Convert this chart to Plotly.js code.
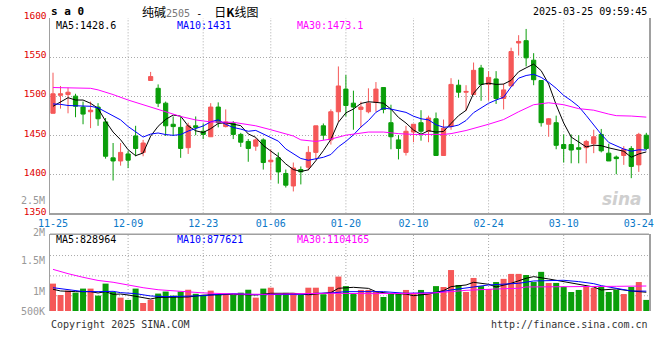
<!DOCTYPE html>
<html><head><meta charset="utf-8">
<script src="https://cdn.plot.ly/plotly-3.0.1.min.js"></script>
<style>html,body{margin:0;padding:0;background:#fff}#chart{width:660px;height:360px}</style>
</head><body><div id="chart"></div>
<script>
const dates = ['11-25','11-26','11-27','11-28','11-29',
'12-02','12-03','12-04','12-05','12-06','12-09','12-10','12-11','12-12','12-13','12-16','12-17','12-18','12-19','12-20','12-23','12-24','12-25','12-26','12-27','12-30','12-31',
'01-02','01-03','01-06','01-07','01-08','01-09','01-10','01-13','01-14','01-15','01-16','01-17','01-20','01-21','01-22','01-23','01-24','01-27',
'02-05','02-06','02-07','02-10','02-11','02-12','02-13','02-14','02-17','02-18','02-19','02-20','02-21','02-24','02-25','02-26','02-27','02-28',
'03-03','03-04','03-05','03-06','03-07','03-10','03-11','03-12','03-13','03-14','03-17','03-18','03-19','03-20','03-21','03-24','03-25'];

const openP  = [1478,1501,1502,1500,1486,1480,1486,1467,1421,1417, 1426,1449,1428,1520,1510,1491,1464,1460,1434,1462, 1455,1448,1486,1461,1465,1451,1442,1436,1444,1416, 1421,1401,1385,1406,1409,1428,1462,1444,1480,1509, 1491,1483,1480,1492,1511,1466,1444,1428,1454,1466, 1455,1471,1424,1461,1514,1505,1502,1536,1515,1522, 1497,1513,1568,1571,1546,1520,1464,1466,1438,1438, 1434,1434,1439,1451,1427,1422,1424,1433,1412,1450];
const highP  = [1530,1513,1511,1503,1493,1493,1491,1472,1440,1440, 1430,1462,1444,1531,1515,1493,1474,1474,1466,1474, 1465,1491,1492,1483,1468,1453,1445,1446,1446,1432, 1428,1406,1415,1410,1436,1462,1465,1483,1538,1527, 1507,1493,1510,1518,1511,1489,1450,1462,1464,1482, 1475,1479,1470,1523,1521,1514,1543,1540,1532,1532, 1516,1562,1578,1586,1555,1520,1472,1475,1451,1451, 1450,1444,1457,1458,1439,1424,1436,1436,1453,1453];
const lowP   = [1478,1484,1478,1473,1464,1459,1462,1420,1392,1411, 1408,1423,1423,1520,1486,1449,1449,1421,1426,1450, 1445,1448,1460,1460,1445,1435,1416,1430,1406,1393, 1388,1383,1378,1387,1405,1418,1444,1438,1467,1474, 1457,1460,1478,1480,1478,1432,1419,1424,1441,1443, 1441,1424,1424,1457,1498,1481,1502,1494,1494,1490, 1483,1513,1552,1538,1514,1461,1448,1432,1415,1414, 1414,1414,1427,1428,1417,1400,1412,1395,1403,1431];
const closeP = [1503,1503,1505,1487,1477,1482,1471,1423,1417,1428, 1418,1433,1440,1525,1491,1462,1461,1433,1462,1460, 1451,1486,1466,1467,1451,1441,1433,1444,1415,1418, 1403,1386,1408,1403,1428,1462,1450,1480,1513,1488, 1486,1486,1491,1509,1483,1448,1433,1455,1464,1455, 1472,1424,1459,1515,1505,1506,1533,1515,1524,1497, 1508,1557,1570,1549,1521,1466,1471,1437,1433,1431, 1432,1442,1448,1430,1417,1420,1432,1410,1451,1433];
const volume = [1210000,708000,900000,810000,990000,990000,680000,1210000,840000,590000,
 490000,990000,354000,500000,770000,860000,680000,860000,940000,760000,
 710000,900000,740000,710000,710000,810000,940000,590000,990000,1030000,
 740000,800000,800000,710000,1030000,1030000,740000,1070000,1520000,1100000,
 750000,930000,930000,840000,620000,750000,750000,930000,750000,930000,
 750000,1100000,1060000,1810000,1150000,840000,1460000,1100000,970000,1280000,
 1420000,1640000,1640000,1590000,1280000,1730000,1240000,1240000,1060000,840000,
 930000,1100000,1020000,1060000,840000,930000,750000,1060000,1280000,490000];

const ma5Price = [1487,1492,1498,1495,1495,1490.8,1484.4,1468,1454,1444.2, 1431.4,1423.8,1427.2,1448.8,1461.4,1470.2,1475.8,1474.4,1461.8,1455.6, 1453.4,1458.4,1465,1466,1464.2,1462.2,1451.6,1447.2,1436.8,1430.2, 1422.6,1413.2,1406,1403.6,1405.6,1417.4,1430.2,1444.6,1466.6,1478.6, 1483.4,1490.6,1492.8,1492,1491,1483.4,1472.8,1465.6,1456.6,1451, 1455.8,1454,1454.8,1465,1475,1481.8,1503.6,1514.8,1516.6,1515, 1515.4,1520.2,1531.2,1536.2,1541,1532.6,1515.4,1488.8,1465.6,1447.6, 1440.8,1435,1437.2,1436.6,1433.8,1431.4,1429.4,1421.8,1426,1428.6];
const ma10Price = [1490,1489.5,1488,1487.5,1487,1487,1485,1480,1474,1469.6, 1461.1,1454.1,1447.6,1451.4,1452.8,1450.8,1449.8,1450.8,1455.3,1458.5, 1461.8,1467.1,1469.7,1463.9,1459.9,1457.8,1455,1456.1,1451.4,1447.2, 1442.4,1432.4,1426.6,1420.2,1417.9,1420,1421.7,1425.3,1435.1,1442.1, 1450.4,1460.4,1468.7,1479.3,1484.8,1483.4,1481.7,1479.2,1474.3,1471, 1469.6,1463.4,1460.2,1460.8,1463,1468.8,1478.8,1484.8,1490.8,1495, 1498.6,1511.9,1523,1526.4,1528,1524,1517.8,1510,1500.9,1494.3, 1486.7,1475.2,1463,1451.1,1440.7,1436.1,1432.2,1429.5,1431.3,1431];
const ma30PriceIdx = [0,3,5,6,7,8,10,12,13,14,16,17,19,21,24,26,27,29,31,32,33,35,37,39,42,44,46,48,50,52,53,55,58,60,62,64,66,68,70,72,74,75,77,79];
const ma30Price = [1511,1510,1510,1508,1505,1502,1495,1489,1485,1482,1476,1474,1469.5,1467,1466.5,1463,1462,1457,1452,1449,1444,1442,1445,1450,1454,1454,1452,1451,1451,1451,1452,1456,1464,1470,1480,1489,1491.5,1489,1484,1482,1477,1475,1474.5,1473.1];

const volMa5Idx = [0,1,3,5,6,7,8,9,10,11,12,13,14,16,18,20,22,24,27,29,32,34,37,38,40,42,43,45,47,48,50,52,53,55,56,58,59,61,63,64,66,68,70,72,73,75,77,79];
const volMa5 = [960000,885000,855000,855000,796000,855000,737000,750000,708000,650000,590000,531000,600000,605000,620000,700000,720000,737000,708000,782000,782000,720000,811000,1003000,1047000,1000000,855000,767000,750000,678000,750000,900000,1077000,1150000,1268000,1180000,1062000,1224000,1445000,1519000,1416000,1298000,1209000,1062000,929000,973000,885000,828964];
const volMa10Idx = [0,2,4,6,8,9,11,13,15,17,20,22,24,27,29,31,33,35,37,39,42,44,47,50,51,53,55,56,58,60,62,64,66,68,70,72,73,75,77,79];
const volMa10 = [1030000,929000,860000,855000,870000,811000,767000,664000,634000,649000,678000,737000,767000,723000,723000,752000,737000,782000,796000,855000,855000,855000,782000,782000,811000,929000,1003000,1062000,1150000,1180000,1224000,1327000,1340000,1357000,1298000,1209000,1121000,1003000,885000,877621];
const volMa30Idx = [0,1,2,4,6,8,10,12,14,16,18,20,24,28,33,37,42,46,50,53,55,59,62,63,66,69,71,75,79];
const volMa30 = [1840000,1740000,1650000,1490000,1350000,1270000,1140000,1030000,940000,885000,826000,800000,752000,737000,767000,782000,767000,767000,782000,855000,914000,973000,1003000,1062000,1062000,1062000,1077000,1091000,1104165];

const tickDates = ['11-25','12-09','12-23','01-06','01-20','02-10','02-24','03-10','03-24'];
const gridDates = ['12-09','12-23','01-06','01-20','02-10','02-24','03-10'];
const priceTicks = [1350,1400,1450,1500,1550,1600];

const RED = '#f55858', GREEN = '#0a9e0a', BLUE_TXT = '#0a78c8', BORDER = '#a0a0a0', GRID = '#aaaaaa';
const MONO = '"DejaVu Sans Mono","Liberation Mono",monospace';
const CJK = '"Noto Sans CJK SC","Noto Sans",sans-serif';
const DOT = '1px,2px';

const xi = dates.map((d, i) => i);
const volColors = xi.map(i => closeP[i] >= openP[i] ? RED : GREEN);

const traces = [
  {type:'candlestick', x:xi, open:openP, high:highP, low:lowP, close:closeP, xaxis:'x', yaxis:'y',
   increasing:{line:{color:RED,width:1}, fillcolor:RED},
   decreasing:{line:{color:GREEN,width:1}, fillcolor:GREEN},
   whiskerwidth:0, hoverinfo:'skip', showlegend:false},
  {type:'scatter', mode:'lines', x:xi, y:ma5Price, line:{color:'#000',width:1}, xaxis:'x', yaxis:'y', hoverinfo:'skip'},
  {type:'scatter', mode:'lines', x:xi, y:ma10Price, line:{color:'#0000ff',width:1}, xaxis:'x', yaxis:'y', hoverinfo:'skip'},
  {type:'scatter', mode:'lines', x:ma30PriceIdx, y:ma30Price, line:{color:'#ff00ff',width:1}, xaxis:'x', yaxis:'y', hoverinfo:'skip'},
  {type:'bar', x:xi, y:volume, width:0.8, marker:{color:volColors, line:{width:0}}, xaxis:'x2', yaxis:'y2', hoverinfo:'skip'},
  {type:'scatter', mode:'lines', x:volMa5Idx, y:volMa5, line:{color:'#000',width:1}, xaxis:'x2', yaxis:'y2', hoverinfo:'skip'},
  {type:'scatter', mode:'lines', x:volMa10Idx, y:volMa10, line:{color:'#0000ff',width:1}, xaxis:'x2', yaxis:'y2', hoverinfo:'skip'},
  {type:'scatter', mode:'lines', x:volMa30Idx, y:volMa30, line:{color:'#ff00ff',width:1}, xaxis:'x2', yaxis:'y2', hoverinfo:'skip'}
];

const shapes = [];
gridDates.forEach(d => {
  const i = dates.indexOf(d);
  shapes.push({type:'line', xref:'x', yref:'y domain', x0:i, x1:i, y0:0, y1:1, line:{color:GRID,width:1,dash:DOT}, layer:'below'});
  shapes.push({type:'line', xref:'x2', yref:'y2 domain', x0:i, x1:i, y0:0, y1:1, line:{color:GRID,width:1,dash:DOT}, layer:'below'});
});
[0.199, 0.458, 0.723].forEach(f => {
  shapes.push({type:'line', xref:'x2 domain', yref:'y2 domain', x0:0, x1:1, y0:f, y1:f, line:{color:GRID,width:1,dash:DOT}, layer:'below'});
});
shapes.push({type:'line', xref:'x2 domain', yref:'y2 domain', x0:0, x1:1, y0:1, y1:1, line:{color:BORDER,width:1.5}});

const px = v => (v - 50) / 599;
const py = v => (311 - v) / 293;
const ann = (text, x, y, xa, color, size, family) => ({text, x:px(x), y:py(y), xref:'paper', yref:'paper', xanchor:xa, yanchor:'middle', showarrow:false, font:{color, size, family: family || MONO}});

const annotations = [
  ann('<b>s a 0</b>', 49, 11, 'left', '#000', 11),
  ann('纯碱<span style="font-family:DejaVu Sans Mono;font-size:10px;fill:#777">2505</span><span style="font-family:DejaVu Sans Mono;font-size:10px">&nbsp;-&nbsp;&nbsp;</span>日<b>K</b>线图', 200, 11, 'center', '#000', 12, CJK),
  ann('2025-03-25 09:59:45', 649, 11, 'right', '#000', 10),
  ann('MA5:1428.6', 54, 25, 'left', '#000', 10),
  ann('MA10:1431', 175, 25, 'left', '#0000ff', 10),
  ann('MA30:1473.1', 295, 25, 'left', '#ff00ff', 10),
  ann('MA5:828964', 54, 239, 'left', '#000', 10),
  ann('MA10:877621', 175, 239, 'left', '#0000ff', 10),
  ann('MA30:1104165', 295, 239, 'left', '#ff00ff', 10),
  ann('2.5M', 47, 200, 'right', '#999', 10),
  ann('2M', 47, 232, 'right', '#999', 10),
  ann('1.5M', 47, 260, 'right', '#999', 10),
  ann('1M', 47, 291, 'right', '#999', 10),
  ann('500K', 47, 311, 'right', '#999', 10),
  ann('Copyright 2025 SINA.COM', 49, 324, 'left', '#333', 10),
  ann('http://finance.sina.com.cn', 650, 324, 'right', '#333', 10),
  {text:'<b><i>sina</i></b>', x:px(622), y:py(199), xref:'paper', yref:'paper', xanchor:'center', yanchor:'middle', showarrow:false, font:{color:'#cfcfcf', size:17, family:'"DejaVu Sans",sans-serif'}}
];

const layout = {
  width:660, height:360, margin:{l:50, r:11, t:18, b:49, pad:0},
  paper_bgcolor:'#fff', plot_bgcolor:'#fff', showlegend:false,
  font:{family:MONO, size:10, color:'#000'},
  xaxis:{domain:[0,1], anchor:'y', range:[-0.4,79.36], tickmode:'array',
    tickvals:tickDates.map(d => dates.indexOf(d)), ticktext:tickDates,
    tickfont:{color:BLUE_TXT, size:10, family:MONO}, ticks:'', showgrid:false, zeroline:false,
    showline:true, linecolor:BORDER, linewidth:1.5, rangeslider:{visible:false}, fixedrange:true},
  yaxis:{domain:[0.3334,1], anchor:'x', range:[1350,1600], tickmode:'array', tickvals:priceTicks,
    tickfont:{color:'#e00000', size:9.5, family:MONO}, ticks:'', ticklabelshift:-2, showgrid:true, gridcolor:GRID, griddash:DOT,
    gridwidth:1, zeroline:false, showline:true, mirror:true, linecolor:BORDER, linewidth:1.5, fixedrange:true},
  xaxis2:{domain:[0,1], anchor:'y2', range:[-0.4,79.36], showticklabels:false, ticks:'', showgrid:false,
    zeroline:false, showline:false, fixedrange:true},
  yaxis2:{domain:[0,0.2618], anchor:'x2', range:[0,3.39e6], showticklabels:false, ticks:'', showgrid:false,
    zeroline:false, showline:true, mirror:true, linecolor:BORDER, linewidth:1.5, fixedrange:true},
  boxgap:0.2,
  shapes, annotations
};

Plotly.newPlot('chart', traces, layout, {staticPlot:true, displayModeBar:false});
</script>
</body></html>
